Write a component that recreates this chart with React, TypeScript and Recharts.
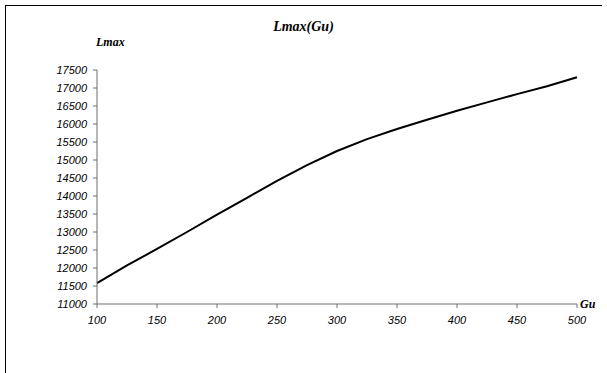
import { LineChart, Line, XAxis, YAxis } from "recharts";

const guValues = [100, 125, 150, 175, 200, 225, 250, 275, 300, 325, 350, 375, 400, 425, 450, 475, 500];
const lmaxValues = [11580, 12070, 12530, 13000, 13480, 13950, 14420, 14860, 15250, 15580, 15860, 16120, 16370, 16600, 16830, 17050, 17300];
const xTicks = [100, 150, 200, 250, 300, 350, 400, 450, 500];
const yTicks = [11000, 11500, 12000, 12500, 13000, 13500, 14000, 14500, 15000, 15500, 16000, 16500, 17000, 17500];

const data = guValues.map((gu, i) => ({ gu, lmax: lmaxValues[i] }));

const tickStyle = {
  fontSize: 11,
  fontStyle: "italic",
  fontFamily: "'Liberation Sans', Arial, sans-serif",
  fill: "#000",
};

const labelFont = "'Liberation Serif', 'Times New Roman', serif";

export default function App() {
  return (
    <div style={{ position: "absolute", left: 0, top: 0, width: 607, height: 373, background: "#fff" }}>
      <div
        style={{
          position: "absolute",
          left: 5,
          top: 5,
          width: 596,
          height: 368,
          borderTop: "1px solid #000",
          borderLeft: "1px solid #000",
        }}
      />
      <div
        style={{
          position: "absolute",
          left: 0,
          width: 607,
          top: 19,
          textAlign: "center",
          fontFamily: labelFont,
          fontWeight: "bold",
          fontStyle: "italic",
          fontSize: 14,
        }}
      >
        Lmax(Gu)
      </div>
      <div
        style={{
          position: "absolute",
          left: 96,
          top: 35,
          fontFamily: labelFont,
          fontWeight: "bold",
          fontStyle: "italic",
          fontSize: 12,
        }}
      >
        Lmax
      </div>
      <div
        style={{
          position: "absolute",
          left: 580,
          top: 297,
          fontFamily: labelFont,
          fontWeight: "bold",
          fontStyle: "italic",
          fontSize: 12,
        }}
      >
        Gu
      </div>
      <LineChart width={607} height={373} data={data} margin={{ top: 70, right: 30, bottom: 39, left: 37 }}>
        <XAxis
          dataKey="gu"
          type="number"
          domain={[100, 500]}
          ticks={xTicks}
          height={30}
          tickSize={4}
          tickMargin={8}
          stroke="#6e6e6e"
          tick={tickStyle}
        />
        <YAxis
          type="number"
          domain={[11000, 17500]}
          ticks={yTicks}
          width={60}
          tickSize={4}
          tickMargin={6}
          stroke="#6e6e6e"
          tick={tickStyle}
          interval={0}
        />
        <Line
          type="linear"
          dataKey="lmax"
          stroke="#000"
          strokeWidth={2}
          dot={false}
          isAnimationActive={false}
        />
      </LineChart>
    </div>
  );
}
